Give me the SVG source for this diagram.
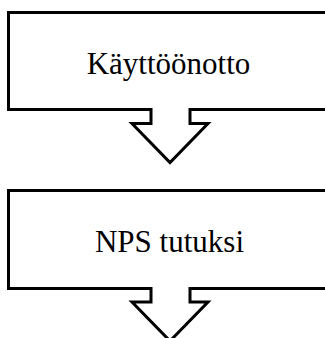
<svg xmlns="http://www.w3.org/2000/svg" width="325" height="338" viewBox="0 0 325 338">
<style>
.shape{fill:#fff;stroke:#000;stroke-width:3;stroke-linejoin:miter}
.lbl{font-family:"Liberation Serif","Times New Roman",serif;font-size:31px;fill:#000;text-anchor:middle}
</style>
<rect width="325" height="338" fill="#fff"/>
<g id="node1">
<path class="shape" d="M8.5 12.5 H336 V109.5 H190 V123.5 H208 L170 162.5 L132 123.5 H151 V109.5 H8.5 Z"/>
<text class="lbl" x="168.5" y="74">Käyttöönotto</text>
</g>
<g id="node2">
<path class="shape" d="M8.5 190.5 H336 V288.5 H190 V302 H208 L170 341 L132 302 H151 V288.5 H8.5 Z"/>
<text class="lbl" x="169.5" y="251.5">NPS tutuksi</text>
</g>
<g id="connectors"></g>
</svg>
